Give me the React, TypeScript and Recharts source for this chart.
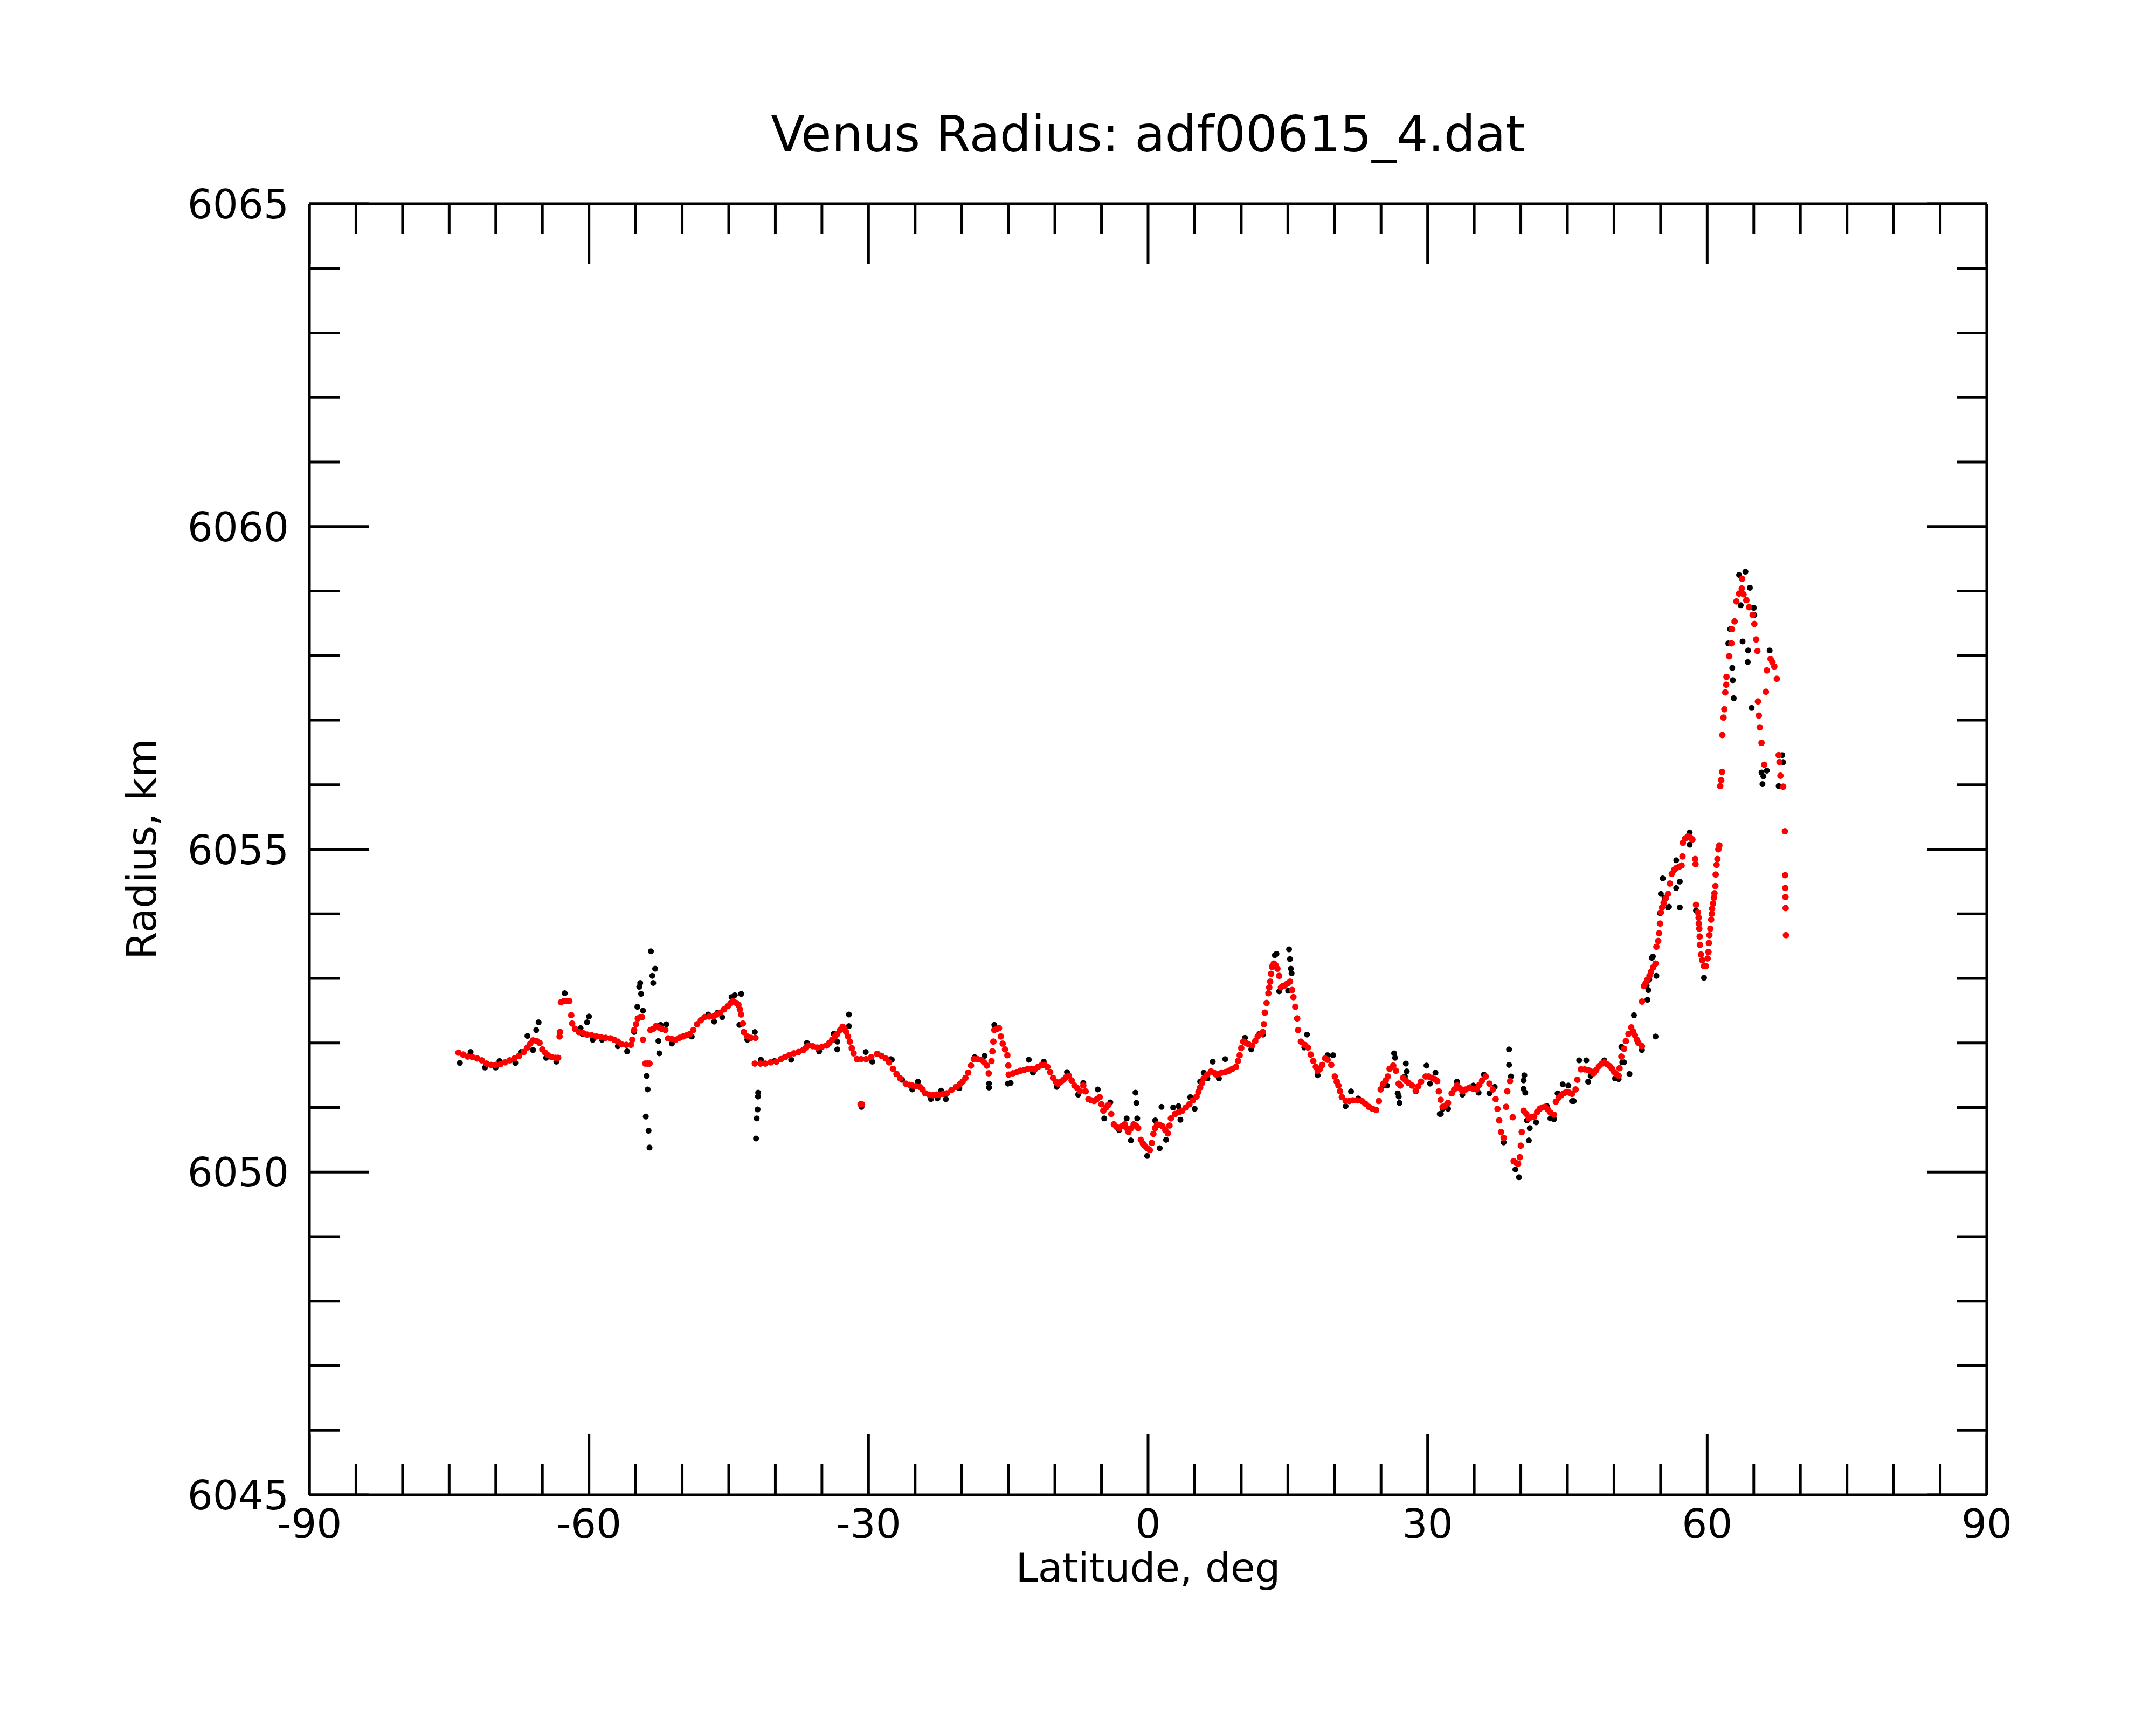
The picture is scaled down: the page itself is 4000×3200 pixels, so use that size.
import React from 'react';
import { ScatterChart, Scatter, XAxis, YAxis } from 'recharts';

// latitude (deg), radius (km) pairs

// smoothed profile (red), southern part
const fitSouth: [number, number][] = [
  [-74.0, 6051.85], [-73.5, 6051.82], [-73.0, 6051.79], [-72.5, 6051.78], [-72.0, 6051.76],
  [-71.5, 6051.73], [-71.0, 6051.68], [-70.5, 6051.66], [-70.0, 6051.66], [-69.5, 6051.67],
  [-69.0, 6051.7], [-68.5, 6051.73], [-68.0, 6051.76], [-67.5, 6051.8], [-67.0, 6051.86],
  [-66.6, 6051.93], [-66.3, 6051.99], [-66.0, 6052.04], [-65.6, 6052.03], [-65.3, 6052.0],
  [-65.0, 6051.9], [-64.7, 6051.85], [-64.4, 6051.81], [-64.0, 6051.78], [-63.6, 6051.77],
  [-63.3, 6051.77], [-63.15, 6052.1], [-63.1, 6052.17], [-63.0, 6052.63], [-62.7, 6052.65],
  [-62.4, 6052.65], [-62.1, 6052.65], [-61.9, 6052.43], [-61.8, 6052.3], [-61.5, 6052.22],
  [-61.1, 6052.17], [-60.6, 6052.15], [-60.2, 6052.13], [-59.7, 6052.12], [-59.2, 6052.1],
  [-58.7, 6052.09], [-58.2, 6052.08], [-57.7, 6052.07], [-57.3, 6052.05], [-56.9, 6052.02],
  [-56.5, 6051.98], [-56.0, 6051.97], [-55.5, 6051.97], [-55.35, 6052.05], [-55.15, 6052.2],
  [-54.95, 6052.29], [-54.75, 6052.38], [-54.5, 6052.4], [-54.3, 6052.4], [-54.2, 6052.05],
  [-53.95, 6051.68], [-53.7, 6051.68], [-53.5, 6051.68], [-53.4, 6052.2], [-53.1, 6052.22],
  [-52.8, 6052.26], [-52.5, 6052.24], [-52.2, 6052.22], [-51.8, 6052.2], [-51.5, 6052.07],
  [-51.1, 6052.06], [-50.7, 6052.05], [-50.3, 6052.08], [-49.9, 6052.1], [-49.5, 6052.12],
  [-49.17, 6052.14], [-48.8, 6052.2], [-48.4, 6052.29], [-48.0, 6052.35], [-47.6, 6052.4],
  [-47.1, 6052.41], [-46.66, 6052.41], [-46.3, 6052.44], [-45.9, 6052.47], [-45.5, 6052.52],
  [-45.1, 6052.57], [-44.8, 6052.62], [-44.54, 6052.65], [-44.2, 6052.62], [-43.96, 6052.59],
  [-43.8, 6052.52], [-43.67, 6052.44], [-43.48, 6052.3], [-43.38, 6052.17], [-43.0, 6052.1],
  [-42.6, 6052.08], [-42.13, 6052.08],
];

// smoothed profile (red), equatorial part
const fitMid: [number, number][] = [
  [-42.2, 6051.68], [-41.6, 6051.68], [-41.07, 6051.68], [-40.5, 6051.7], [-39.9, 6051.71],
  [-39.4, 6051.75], [-38.95, 6051.78], [-38.5, 6051.81], [-38.0, 6051.84], [-37.5, 6051.86],
  [-37.0, 6051.89], [-36.7, 6051.93], [-36.44, 6051.96], [-36.0, 6051.95], [-35.5, 6051.93],
  [-35.0, 6051.94], [-34.5, 6051.96], [-34.2, 6052.0], [-33.9, 6052.05], [-33.6, 6052.1],
  [-33.35, 6052.14], [-33.05, 6052.2], [-32.78, 6052.25], [-32.6, 6052.22], [-32.4, 6052.17],
  [-32.2, 6052.1], [-32.0, 6052.02], [-31.8, 6051.92], [-31.6, 6051.84], [-31.24, 6051.75],
  [-30.8, 6051.75], [-30.27, 6051.75], [-29.7, 6051.78], [-29.1, 6051.83], [-28.6, 6051.8],
  [-28.15, 6051.76], [-27.8, 6051.7], [-27.38, 6051.6], [-27.0, 6051.52], [-26.6, 6051.45],
  [-26.0, 6051.37], [-25.6, 6051.35], [-25.3, 6051.34], [-24.9, 6051.33], [-24.5, 6051.32],
  [-24.2, 6051.28], [-23.9, 6051.22], [-23.5, 6051.2], [-23.1, 6051.19], [-22.7, 6051.2],
  [-22.4, 6051.2], [-22.0, 6051.21], [-21.6, 6051.22], [-21.1, 6051.27], [-20.6, 6051.32],
  [-20.2, 6051.36], [-19.9, 6051.4], [-19.6, 6051.46], [-19.3, 6051.54], [-19.0, 6051.65],
  [-18.7, 6051.75], [-18.3, 6051.75], [-17.9, 6051.74], [-17.6, 6051.7], [-17.3, 6051.65],
  [-17.1, 6051.53], [-16.8, 6051.72], [-16.7, 6051.87], [-16.6, 6052.02], [-16.5, 6052.2],
  [-16.2, 6052.22], [-16.0, 6052.23], [-15.8, 6052.1], [-15.6, 6051.99], [-15.35, 6051.9],
  [-15.1, 6051.81], [-15.0, 6051.65], [-14.95, 6051.51], [-14.5, 6051.53], [-14.1, 6051.55],
  [-13.7, 6051.57], [-13.3, 6051.58], [-12.9, 6051.6], [-12.5, 6051.6], [-12.15, 6051.59],
  [-11.8, 6051.63], [-11.4, 6051.66], [-11.1, 6051.66], [-10.8, 6051.63], [-10.5, 6051.55],
  [-10.2, 6051.46], [-9.9, 6051.4], [-9.65, 6051.37], [-9.35, 6051.4], [-9.07, 6051.43],
  [-8.8, 6051.47], [-8.5, 6051.49], [-8.2, 6051.42], [-7.9, 6051.34], [-7.6, 6051.3],
  [-7.3, 6051.25], [-6.95, 6051.34], [-6.7, 6051.25], [-6.4, 6051.13], [-6.1, 6051.11],
  [-5.8, 6051.1], [-5.5, 6051.13], [-5.2, 6051.16], [-5.0, 6051.05], [-4.8, 6050.95],
  [-4.5, 6051.0], [-4.25, 6051.04], [-3.95, 6050.9], [-3.67, 6050.74], [-3.4, 6050.7],
  [-3.1, 6050.68], [-2.8, 6050.71], [-2.5, 6050.74], [-2.3, 6050.68], [-2.1, 6050.62],
  [-1.8, 6050.68], [-1.55, 6050.74], [-1.3, 6050.72], [-1.06, 6050.68], [-0.78, 6050.5],
  [-0.55, 6050.44], [-0.39, 6050.41], [-0.1, 6050.37], [0.19, 6050.34], [0.4, 6050.45],
  [0.57, 6050.59], [0.75, 6050.68], [0.96, 6050.74], [1.25, 6050.73], [1.54, 6050.71],
  [1.85, 6050.65], [2.12, 6050.6], [2.3, 6050.72], [2.45, 6050.83], [2.89, 6050.9],
  [3.3, 6050.93], [3.66, 6050.95], [4.05, 6051.0], [4.43, 6051.05], [4.8, 6051.11],
  [5.2, 6051.17], [5.4, 6051.24], [5.59, 6051.31], [5.8, 6051.38], [5.97, 6051.45],
  [6.35, 6051.51], [6.74, 6051.56], [7.05, 6051.54], [7.32, 6051.51], [7.6, 6051.52],
  [7.9, 6051.54], [8.3, 6051.55], [8.67, 6051.57], [9.05, 6051.6], [9.44, 6051.63],
  [9.65, 6051.72], [9.83, 6051.81], [10.0, 6051.92], [10.21, 6052.02], [10.5, 6052.0],
  [10.79, 6051.98], [11.18, 6051.96], [11.5, 6052.03], [11.76, 6052.1], [12.1, 6052.14],
  [12.33, 6052.17], [12.43, 6052.29], [12.53, 6052.47], [12.72, 6052.62], [12.91, 6052.77],
  [13.0, 6052.86], [13.1, 6052.95], [13.2, 6053.07], [13.3, 6053.18], [13.49, 6053.23],
  [13.7, 6053.2], [13.88, 6053.15], [14.07, 6053.04], [14.26, 6052.86], [14.45, 6052.88],
  [14.65, 6052.89], [14.95, 6052.92], [15.23, 6052.95], [15.45, 6052.82], [15.6, 6052.71],
  [15.8, 6052.56], [16.0, 6052.38], [16.1, 6052.2], [16.4, 6052.02], [16.8, 6051.97],
  [17.15, 6051.93], [17.45, 6051.82], [17.73, 6051.72], [18.0, 6051.63], [18.2, 6051.57],
  [18.45, 6051.6], [18.7, 6051.66], [19.0, 6051.76],
];

// smoothed profile (red), northern part
const fitNorth: [number, number][] = [
  [19.27, 6051.74], [19.66, 6051.66], [20.04, 6051.48], [20.25, 6051.4], [20.43, 6051.34],
  [20.6, 6051.25], [20.8, 6051.16], [21.2, 6051.1], [21.6, 6051.1], [21.97, 6051.11],
  [22.45, 6051.11], [22.94, 6051.1], [23.3, 6051.06], [23.71, 6051.01], [24.1, 6050.98],
  [24.48, 6050.96], [24.77, 6051.1], [24.96, 6051.28], [25.25, 6051.37], [25.5, 6051.42],
  [25.73, 6051.48], [25.92, 6051.6], [26.31, 6051.65], [26.6, 6051.57], [26.89, 6051.37],
  [27.08, 6051.34], [27.37, 6051.46], [27.65, 6051.42], [27.95, 6051.38], [28.33, 6051.34],
  [28.72, 6051.26], [29.0, 6051.33], [29.3, 6051.4], [29.78, 6051.48], [30.1, 6051.48],
  [30.45, 6051.46], [30.75, 6051.44], [31.03, 6051.41], [31.2, 6051.25], [31.4, 6051.12],
  [31.6, 6051.01], [31.9, 6051.03], [32.19, 6051.07], [32.58, 6051.22], [32.85, 6051.28],
  [33.15, 6051.34], [33.45, 6051.3], [33.73, 6051.25], [34.1, 6051.28], [34.5, 6051.31],
  [34.9, 6051.29], [35.27, 6051.28], [35.55, 6051.35], [35.85, 6051.42], [36.24, 6051.48],
  [36.63, 6051.37], [37.0, 6051.28], [37.3, 6051.13], [37.5, 6050.98], [37.68, 6050.8],
  [37.88, 6050.62], [38.16, 6050.53], [38.42, 6051.01], [38.55, 6051.25], [38.84, 6051.41],
  [39.13, 6050.85], [39.23, 6050.17], [39.5, 6050.14], [39.71, 6050.13], [39.9, 6050.23],
  [40.0, 6050.41], [40.1, 6050.62], [40.3, 6050.95], [40.6, 6050.9], [40.86, 6050.83],
  [41.15, 6050.85], [41.44, 6050.86], [41.75, 6050.93], [42.02, 6050.98], [42.3, 6051.0],
  [42.6, 6051.01], [42.9, 6050.97], [43.18, 6050.92], [43.56, 6050.89], [43.76, 6051.09],
  [44.05, 6051.15], [44.33, 6051.19], [44.6, 6051.22], [44.91, 6051.24], [45.2, 6051.23],
  [45.49, 6051.21], [45.88, 6051.28], [46.07, 6051.43], [46.45, 6051.59], [46.85, 6051.59],
  [47.23, 6051.58], [47.5, 6051.56], [47.8, 6051.53], [48.1, 6051.58], [48.38, 6051.64],
  [48.7, 6051.68], [48.96, 6051.7], [49.25, 6051.67], [49.54, 6051.64], [49.8, 6051.6],
  [50.02, 6051.55], [50.25, 6051.52], [50.5, 6051.49], [50.6, 6051.61], [50.79, 6051.79],
  [51.08, 6051.91], [51.27, 6052.03], [51.55, 6052.14], [51.85, 6052.24], [52.05, 6052.18],
  [52.24, 6052.12], [52.45, 6052.05], [52.62, 6052.0], [53.0, 6051.95], [53.0, 6052.64],
  [53.2, 6052.88], [53.4, 6052.93], [53.59, 6052.98], [53.8, 6053.04], [53.97, 6053.1],
  [54.2, 6053.17], [54.46, 6053.23], [54.55, 6053.49], [54.75, 6053.58], [54.84, 6053.7],
  [54.94, 6053.85], [55.03, 6054.02], [55.15, 6054.1], [55.32, 6054.17], [55.55, 6054.24],
  [55.8, 6054.31], [56.0, 6054.47], [56.2, 6054.62], [56.45, 6054.68], [56.67, 6054.71],
  [57.0, 6054.73], [57.25, 6054.75], [57.35, 6054.89], [57.4, 6055.1], [57.65, 6055.17],
  [57.93, 6055.2], [58.2, 6055.18], [58.41, 6055.15], [58.7, 6054.85], [58.75, 6054.77],
  [58.8, 6054.14], [59.0, 6054.02], [59.08, 6053.94], [59.1, 6053.85], [59.15, 6053.77],
  [59.2, 6053.65], [59.22, 6053.52], [59.33, 6053.37], [59.47, 6053.28], [59.66, 6053.19],
  [59.85, 6053.19], [60.05, 6053.31], [60.14, 6053.41], [60.18, 6053.55], [60.24, 6053.67],
  [60.34, 6053.77], [60.43, 6053.91], [60.49, 6054.0], [60.53, 6054.08], [60.63, 6054.16],
  [60.72, 6054.25], [60.78, 6054.32], [60.88, 6054.43], [60.91, 6054.61], [61.01, 6054.76],
  [61.1, 6054.85], [61.2, 6055.0], [61.3, 6055.06], [61.4, 6055.98], [61.5, 6056.07],
  [61.6, 6056.2], [61.63, 6056.77], [61.75, 6057.04], [61.84, 6057.17], [61.94, 6057.43],
  [62.04, 6057.55], [62.07, 6057.67], [62.36, 6057.99], [62.6, 6058.19], [62.65, 6058.41],
  [62.94, 6058.53], [63.13, 6058.84], [63.42, 6058.96], [63.71, 6059.04], [63.75, 6059.19],
  [63.9, 6058.95], [64.2, 6058.86], [64.5, 6058.75], [64.87, 6058.63], [65.06, 6058.49],
  [65.25, 6058.25], [65.39, 6058.07], [65.45, 6057.29], [65.54, 6057.07], [65.64, 6056.89],
  [65.83, 6056.65], [66.12, 6056.31], [66.3, 6057.44], [66.4, 6057.77], [66.8, 6057.95],
  [67.0, 6057.9], [67.2, 6057.83], [67.47, 6057.64], [67.67, 6056.46], [67.76, 6056.35],
  [67.86, 6056.14], [68.15, 6055.97], [68.34, 6055.28], [68.36, 6054.6], [68.38, 6054.4],
  [68.4, 6054.26], [68.42, 6054.09], [68.45, 6053.67],
  [-30.85, 6051.05], [-30.7, 6051.05],
];

// raw radii (black) that show around the smoothed profile
const rawNear: [number, number][] = [
  [-73.85, 6051.69], [-72.7, 6051.86], [-71.15, 6051.62], [-70.0, 6051.62], [-69.6, 6051.72],
  [-67.9, 6051.69], [-67.3, 6051.86], [-66.0, 6051.89], [-64.6, 6051.77], [-63.5, 6051.71],
  [-60.9, 6052.23], [-60.7, 6052.14], [-59.6, 6052.05], [-58.6, 6052.05], [-56.9, 6051.95],
  [-55.9, 6051.87], [-55.15, 6052.17], [-52.55, 6052.03], [-51.1, 6051.99], [-48.97, 6052.1],
  [-47.2, 6052.44], [-46.56, 6052.33], [-46.2, 6052.47], [-45.7, 6052.4], [-44.7, 6052.71],
  [-43.0, 6052.05], [-41.55, 6051.74], [-40.1, 6051.72], [-38.3, 6051.74], [-36.6, 6052.0],
  [-35.3, 6051.87], [-33.74, 6052.14], [-30.3, 6051.86], [-29.6, 6051.71], [-29.0, 6051.83],
  [-27.5, 6051.74], [-27.6, 6051.75], [-26.4, 6051.43], [-25.3, 6051.28], [-24.7, 6051.4],
  [-23.3, 6051.13], [-22.6, 6051.14], [-22.2, 6051.26], [-21.7, 6051.13], [-20.25, 6051.3],
  [-18.6, 6051.78], [-17.55, 6051.8], [-14.75, 6051.38], [-13.7, 6051.57], [-12.35, 6051.54],
  [-11.2, 6051.71], [-9.8, 6051.32], [-8.7, 6051.55], [-7.5, 6051.2], [-6.95, 6051.38],
  [-5.4, 6051.28], [-4.7, 6050.83], [-4.05, 6051.08], [-3.1, 6050.65], [-2.3, 6050.83],
  [-1.16, 6050.83], [0.77, 6050.8], [1.93, 6050.5], [2.7, 6051.0], [3.27, 6051.02],
  [3.47, 6050.81], [4.82, 6051.13], [5.0, 6050.98], [4.53, 6051.16], [5.59, 6051.4],
  [5.97, 6051.54], [6.36, 6051.45], [6.94, 6051.71], [7.6, 6051.45], [8.28, 6051.75],
  [10.4, 6052.08], [11.08, 6051.9], [11.95, 6052.14], [12.33, 6052.13], [14.07, 6052.8],
  [15.03, 6052.81], [17.05, 6052.13], [16.77, 6051.93], [18.2, 6051.5], [19.27, 6051.81],
  [19.85, 6051.81], [21.2, 6051.02], [21.78, 6051.25], [22.55, 6051.14], [24.09, 6050.98],
  [25.25, 6051.34], [25.64, 6051.34], [26.79, 6051.22], [27.56, 6051.48], [28.72, 6051.25],
  [29.88, 6051.65], [30.26, 6051.37], [30.84, 6051.54], [31.61, 6050.98], [32.19, 6050.98],
  [33.15, 6051.4], [33.73, 6051.2], [34.9, 6051.34], [35.47, 6051.23], [36.05, 6051.51],
  [36.63, 6051.22], [37.2, 6051.32], [38.16, 6050.46], [40.67, 6050.8], [41.64, 6050.77],
  [42.8, 6051.02], [43.18, 6050.83], [43.56, 6050.82], [43.95, 6051.22], [44.5, 6051.36],
  [45.1, 6051.34], [45.49, 6051.1], [45.68, 6051.1], [46.26, 6051.73], [47.03, 6051.73],
  [47.23, 6051.4], [47.5, 6051.49], [48.96, 6051.73], [50.12, 6051.45], [50.5, 6051.44],
  [50.79, 6051.94], [50.89, 6051.7], [51.08, 6051.7], [51.66, 6051.52], [53.0, 6051.89],
  [53.5, 6052.89], [53.59, 6052.67], [53.68, 6052.82], [53.78, 6052.98], [54.07, 6053.32],
  [54.17, 6053.34], [54.55, 6053.04], [54.94, 6054.01], [55.03, 6054.31], [55.23, 6054.55],
  [55.42, 6054.25], [55.8, 6054.1], [55.9, 6054.11], [56.68, 6054.83], [58.12, 6055.07],
  [58.12, 6055.26], [58.8, 6054.05], [59.66, 6053.01],
];

// raw radii (black) well away from the smoothed profile
const rawOutliers: [number, number][] = [
  [-66.6, 6052.11], [-65.66, 6052.2], [-65.4, 6052.32], [-62.6, 6052.77], [-60.2, 6052.32],
  [-60.0, 6052.41], [-54.8, 6052.56], [-54.6, 6052.87], [-54.5, 6052.93], [-54.4, 6052.76],
  [-54.2, 6052.5], [-53.35, 6053.42], [-53.2, 6053.04], [-53.1, 6052.93], [-52.9, 6053.15],
  [-53.8, 6051.49], [-53.7, 6051.28], [-53.9, 6050.86], [-53.6, 6050.64], [-53.5, 6050.38],
  [-52.45, 6051.84], [-52.3, 6052.28], [-51.7, 6052.29], [-44.35, 6052.74], [-43.67, 6052.76],
  [-43.86, 6052.28], [-42.2, 6052.17], [-41.84, 6051.23], [-41.86, 6051.17], [-41.9, 6050.97],
  [-42.0, 6050.83], [-42.07, 6050.52], [-33.35, 6052.02], [-33.35, 6051.9], [-32.1, 6052.44],
  [-32.1, 6052.26], [-30.75, 6051.01], [-17.07, 6051.37], [-17.07, 6051.31], [-16.5, 6052.28],
  [-15.05, 6051.37], [-12.8, 6051.74], [-1.84, 6050.49], [-1.35, 6051.23], [-1.26, 6051.07],
  [-0.1, 6050.25], [1.25, 6050.37], [1.44, 6051.01], [13.6, 6053.36], [13.78, 6053.38],
  [15.13, 6053.45], [15.23, 6053.3], [15.32, 6053.15], [15.4, 6053.08], [26.4, 6051.84],
  [26.5, 6051.77], [26.9, 6051.17], [26.98, 6051.07], [27.66, 6051.68], [27.76, 6051.56],
  [31.3, 6050.9], [31.42, 6050.9], [38.74, 6051.9], [38.74, 6051.66], [38.94, 6051.48],
  [39.42, 6050.04], [39.8, 6049.92], [40.3, 6051.29], [40.3, 6051.42], [40.38, 6051.5],
  [40.48, 6051.23], [40.86, 6050.49], [40.96, 6050.68], [52.14, 6052.43], [54.46, 6052.1],
  [56.67, 6054.4], [57.06, 6054.1], [57.06, 6054.5], [62.27, 6058.19], [62.46, 6058.41],
  [62.69, 6057.81], [62.75, 6057.62], [62.85, 6057.34], [63.42, 6059.25], [63.6, 6058.78],
  [63.8, 6058.22], [64.1, 6059.3], [64.35, 6057.9], [64.39, 6058.08], [64.58, 6059.05],
  [64.77, 6057.19], [65.0, 6058.74], [65.06, 6058.63], [65.83, 6056.19], [65.93, 6056.01],
  [66.03, 6056.13], [66.4, 6056.22], [66.7, 6058.08], [67.67, 6055.98], [68.05, 6056.46],
  [68.15, 6056.35],
];

const latTicks = [-90, -85, -80, -75, -70, -65, -60, -55, -50, -45, -40, -35, -30, -25, -20, -15, -10, -5,
  0, 5, 10, 15, 20, 25, 30, 35, 40, 45, 50, 55, 60, 65, 70, 75, 80, 85, 90];
const latLabels = [-90, -60, -30, 0, 30, 60, 90];
const radiusTicks = [6045, 6046, 6047, 6048, 6049, 6050, 6051, 6052, 6053, 6054, 6055,
  6056, 6057, 6058, 6059, 6060, 6061, 6062, 6063, 6064, 6065];
const radiusLabels = [6045, 6050, 6055, 6060, 6065];

const FONT = '"DejaVu Sans", sans-serif';
const FS = 74;

const toPoints = (pairs: [number, number][]) => pairs.map(([lat, radius]) => ({ lat, radius }));

const fitData = [...toPoints(fitSouth), ...toPoints(fitMid), ...toPoints(fitNorth)];
const rawData = [...toPoints(rawNear), ...toPoints(rawOutliers)];

const BottomTick = ({ x, y, payload }: any) => {
  const major = latLabels.includes(payload.value);
  return (
    <g>
      <line x1={x} y1={y} x2={x} y2={y - (major ? 112 : 57)} stroke="#000" strokeWidth={5} />
      {major && (
        <text x={x} y={y + 80} textAnchor="middle" fontSize={FS} fontFamily={FONT} fill="#000">
          {payload.value}
        </text>
      )}
    </g>
  );
};

const TopTick = ({ x, y, payload }: any) => {
  const major = latLabels.includes(payload.value);
  return <line x1={x} y1={y} x2={x} y2={y + (major ? 112 : 57)} stroke="#000" strokeWidth={5} />;
};

const LeftTick = ({ x, y, payload }: any) => {
  const major = radiusLabels.includes(payload.value);
  return (
    <g>
      <line x1={x} y1={y} x2={x + (major ? 110 : 56)} y2={y} stroke="#000" strokeWidth={5} />
      {major && (
        <text x={x - 38} y={y + 27} textAnchor="end" fontSize={FS} fontFamily={FONT} fill="#000">
          {payload.value}
        </text>
      )}
    </g>
  );
};

const RightTick = ({ x, y, payload }: any) => {
  const major = radiusLabels.includes(payload.value);
  return <line x1={x} y1={y} x2={x - (major ? 110 : 56)} y2={y} stroke="#000" strokeWidth={5} />;
};

const rawDot = (p: any) => <circle cx={p.cx} cy={p.cy} r={5.5} fill="#000000" />;
const fitDot = (p: any) => <circle cx={p.cx} cy={p.cy} r={6} fill="#ff0000" />;

const axisLine = { stroke: '#000', strokeWidth: 5 };

export default function App() {
  return (
    <div style={{ position: 'absolute', left: 0, top: 0, width: 4000, height: 3200, background: '#fff', fontFamily: FONT }}>
      <div style={{ position: 'absolute', left: 2130, top: 250, transform: 'translate(-50%, -50%)', fontSize: 92, lineHeight: 1, whiteSpace: 'nowrap' }}>
        Venus Radius: adf00615_4.dat
      </div>
      <div style={{ position: 'absolute', left: 2130, top: 2908, transform: 'translate(-50%, -50%)', fontSize: FS, lineHeight: 1, whiteSpace: 'nowrap' }}>
        Latitude, deg
      </div>
      <div style={{ position: 'absolute', left: 263, top: 1575, transform: 'translate(-50%, -50%) rotate(-90deg)', fontSize: FS, lineHeight: 1, whiteSpace: 'nowrap' }}>
        Radius, km
      </div>
      <ScatterChart width={4000} height={3200} margin={{ top: 368, right: 304, bottom: 277, left: 374 }}>
        <XAxis
          xAxisId="bottom"
          type="number"
          dataKey="lat"
          domain={[-90, 90]}
          allowDataOverflow
          ticks={latTicks}
          interval={0}
          height={150}
          tickSize={0}
          tickMargin={0}
          tickLine={false}
          axisLine={axisLine}
          tick={<BottomTick />}
        />
        <XAxis
          xAxisId="top"
          orientation="top"
          type="number"
          dataKey="lat"
          domain={[-90, 90]}
          allowDataOverflow
          ticks={latTicks}
          interval={0}
          height={10}
          tickSize={0}
          tickMargin={0}
          tickLine={false}
          axisLine={axisLine}
          tick={<TopTick />}
        />
        <YAxis
          yAxisId="left"
          type="number"
          dataKey="radius"
          domain={[6045, 6065]}
          allowDataOverflow
          ticks={radiusTicks}
          interval={0}
          width={200}
          tickSize={0}
          tickMargin={0}
          tickLine={false}
          axisLine={axisLine}
          tick={<LeftTick />}
        />
        <YAxis
          yAxisId="right"
          orientation="right"
          type="number"
          dataKey="radius"
          domain={[6045, 6065]}
          allowDataOverflow
          ticks={radiusTicks}
          interval={0}
          width={10}
          tickSize={0}
          tickMargin={0}
          tickLine={false}
          axisLine={axisLine}
          tick={<RightTick />}
        />
        <Scatter xAxisId="bottom" yAxisId="left" data={rawData} shape={rawDot} isAnimationActive={false} />
        <Scatter xAxisId="bottom" yAxisId="left" data={fitData} shape={fitDot} isAnimationActive={false} />
        <Scatter xAxisId="top" yAxisId="right" data={[]} isAnimationActive={false} />
      </ScatterChart>
    </div>
  );
}
